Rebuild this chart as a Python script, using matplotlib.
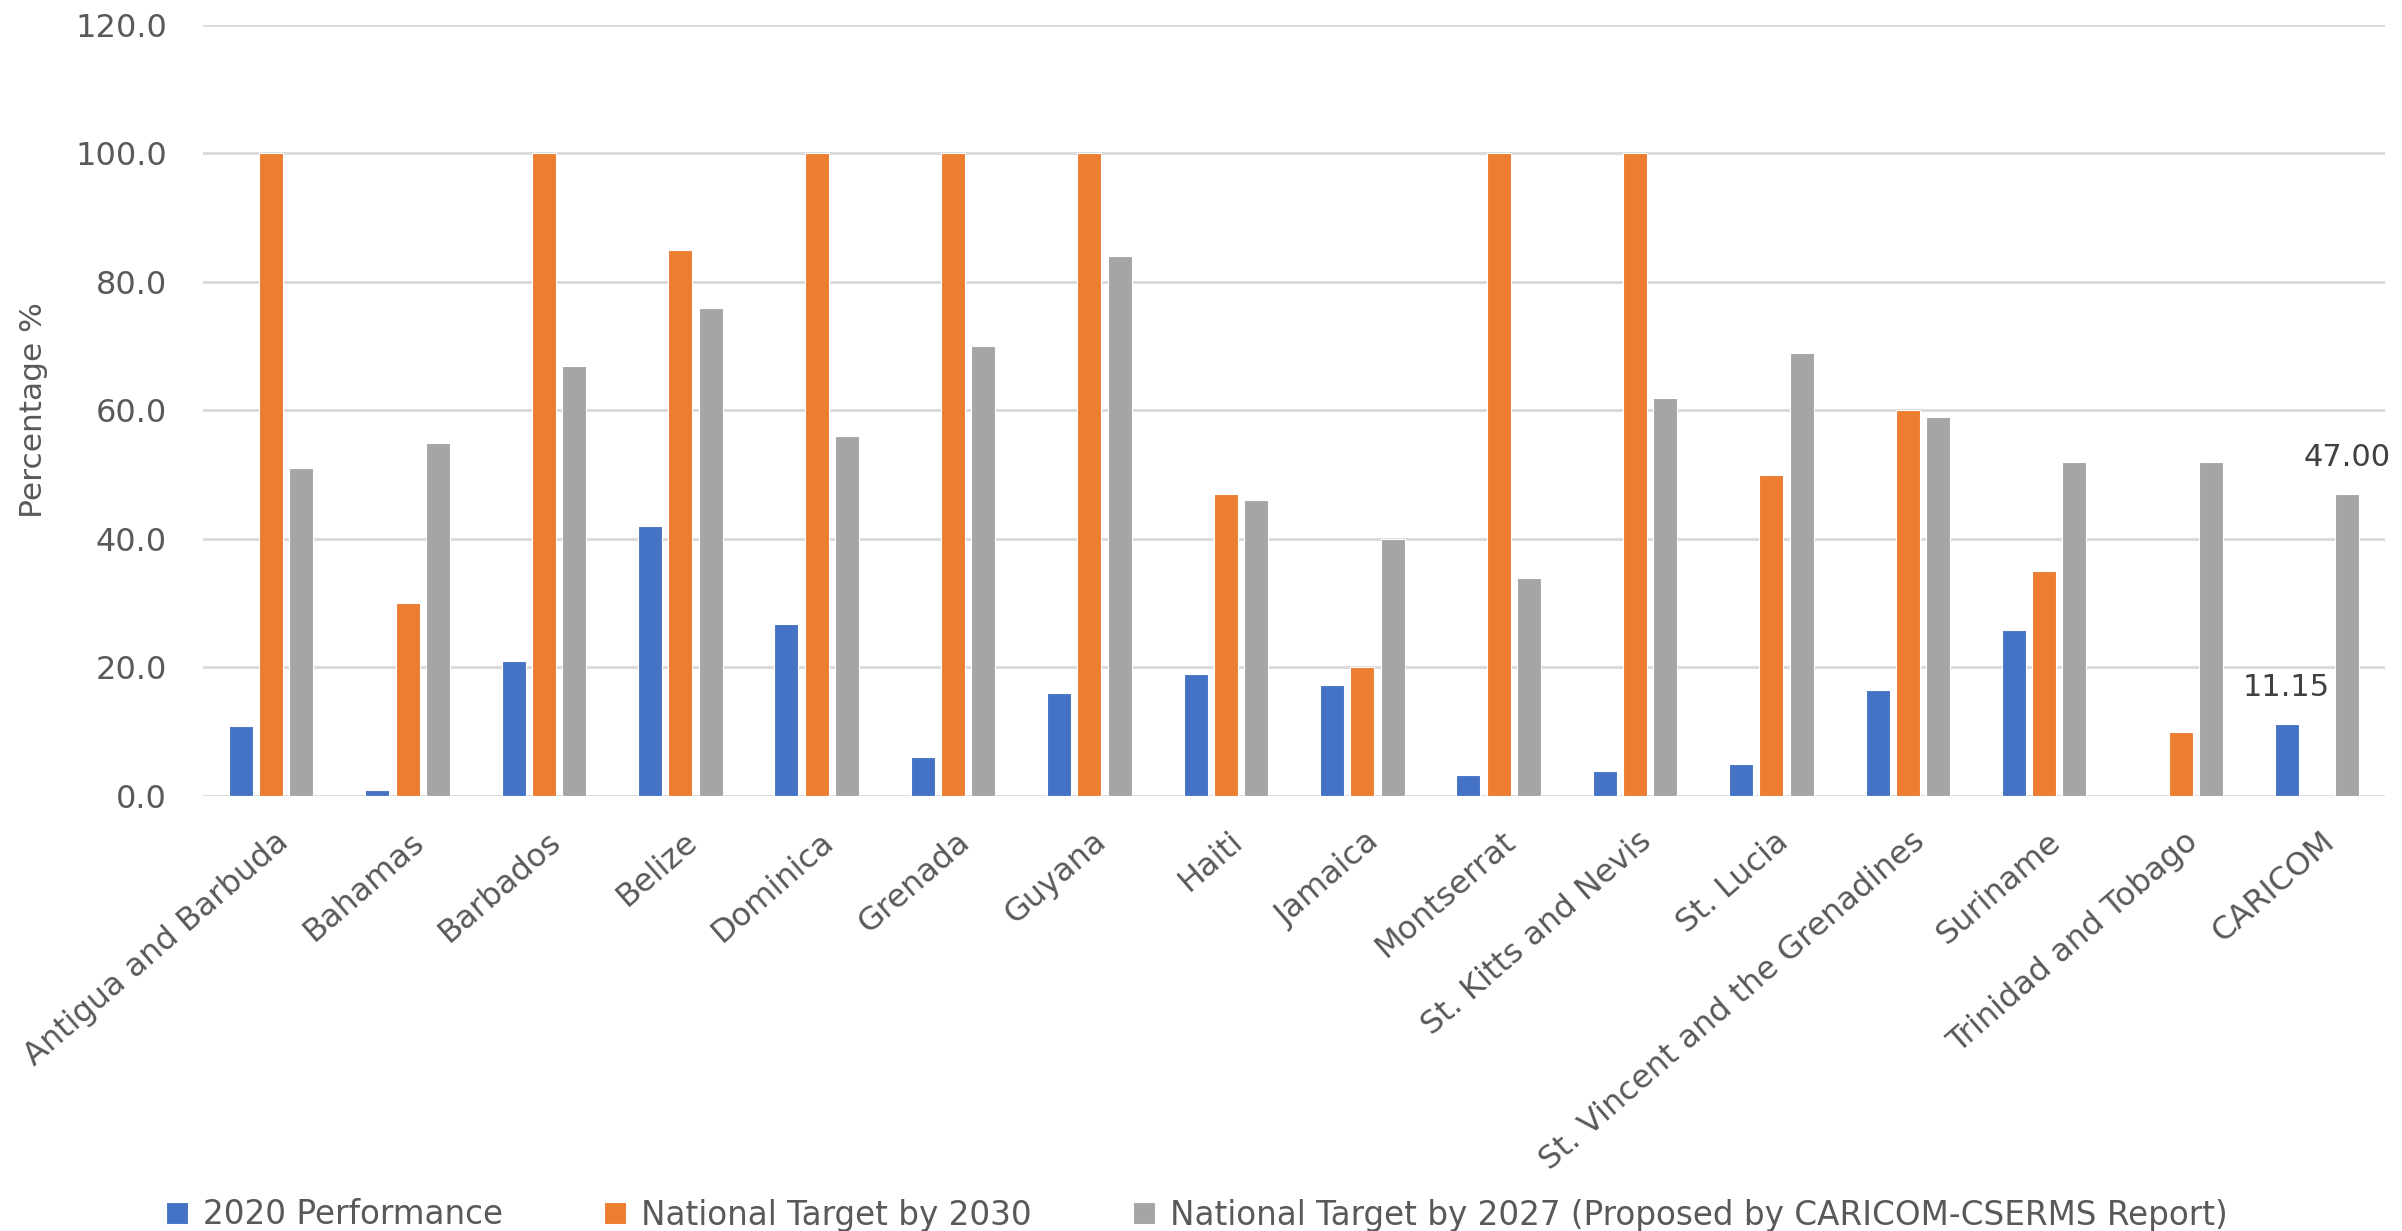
import numpy as np
import matplotlib
matplotlib.use("Agg")
import matplotlib.pyplot as plt
from matplotlib.transforms import ScaledTranslation

plt.rcParams['font.family'] = ['DejaVu Sans']

countries = [
    "Antigua and Barbuda", "Bahamas", "Barbados", "Belize", "Dominica",
    "Grenada", "Guyana", "Haiti", "Jamaica", "Montserrat",
    "St. Kitts and Nevis", "St. Lucia", "St. Vincent and the Grenadines",
    "Suriname", "Trinidad and Tobago", "CARICOM",
]
performance_2020 = [10.9, 1.0, 21.0, 42.0, 26.8, 6.0, 16.0, 19.0, 17.2, 3.3,
                    3.9, 5.0, 16.5, 25.8, None, 11.15]
target_2030 = [100, 30, 100, 85, 100, 100, 100, 47, 20, 100,
               100, 50, 60, 35, 10, None]
target_2027 = [51, 55, 67, 76, 56, 70, 84, 46, 40, 34,
               62, 69, 59, 52, 52, 47.00]
series_names = ["2020 Performance", "National Target by 2030",
                "National Target by 2027 (Proposed by CARICOM-CSERMS Report)"]
colors = ["#4472C4", "#ED7D31", "#A5A5A5"]
yticks = [0, 20, 40, 60, 80, 100, 120]

text_grey = "#595959"
grid_grey = "#D9D9D9"

fig = plt.figure(figsize=(24.02, 12.31), dpi=100)
ax = fig.add_axes([0.0845, 0.3534, 0.9085, 0.6263])

x = np.arange(len(countries))
step = 0.222
width = 0.176
handles = []
for k, (vals, col, name) in enumerate(zip([performance_2020, target_2030, target_2027],
                                          colors, series_names)):
    idx = [i for i, v in enumerate(vals) if v is not None]
    h = [vals[i] for i in idx]
    bc = ax.bar(x[idx] + (k - 1) * step, h, width, color=col,
                edgecolor="white", linewidth=0.8, zorder=3, label=name)
    handles.append(bc)

# value labels on the CARICOM aggregate bars
cari = countries.index("CARICOM")
for k, vals in [(0, performance_2020), (2, target_2027)]:
    v = vals[cari]
    ax.annotate(f"{v:.2f}", xy=(cari + (k - 1) * step, v), xytext=(0, 26.5),
                textcoords="offset points", ha="center", va="center",
                fontsize=22, color="#404040", zorder=4)

ax.set_xlim(-0.5, len(countries) - 0.5)
ax.set_ylim(0, 120)
ax.set_yticks(yticks)
ax.set_yticklabels([f"{t:.1f}" for t in yticks])
ax.yaxis.grid(True, color=grid_grey, linewidth=2.0, zorder=0)
ax.set_axisbelow(True)
for s in ax.spines.values():
    s.set_visible(False)
ax.tick_params(axis="y", length=0, pad=26, labelsize=23, labelcolor=text_grey)
ax.tick_params(axis="x", length=0, pad=30, labelsize=23, labelcolor=text_grey)

ax.set_xticks(x)
ax.set_xticklabels(countries, rotation=41, ha="right", va="center",
                   rotation_mode="anchor")
shift = ScaledTranslation(0.13, 0, fig.dpi_scale_trans)
for lab in ax.get_xticklabels():
    lab.set_transform(lab.get_transform() + shift)

fig.text(34 / 2402, 1 - 410 / 1231, "Percentage %", rotation=90,
         ha="center", va="center", fontsize=22.5, color=text_grey)

fig.legend(handles=handles, loc="center", bbox_to_anchor=(0.4983, 1 - 1215 / 1231),
           ncol=3, frameon=False, fontsize=23.5, labelcolor=text_grey,
           handlelength=0.68, handleheight=0.68, handletextpad=0.45,
           columnspacing=3.1)

fig.savefig("out.png", dpi=100, facecolor="white")
